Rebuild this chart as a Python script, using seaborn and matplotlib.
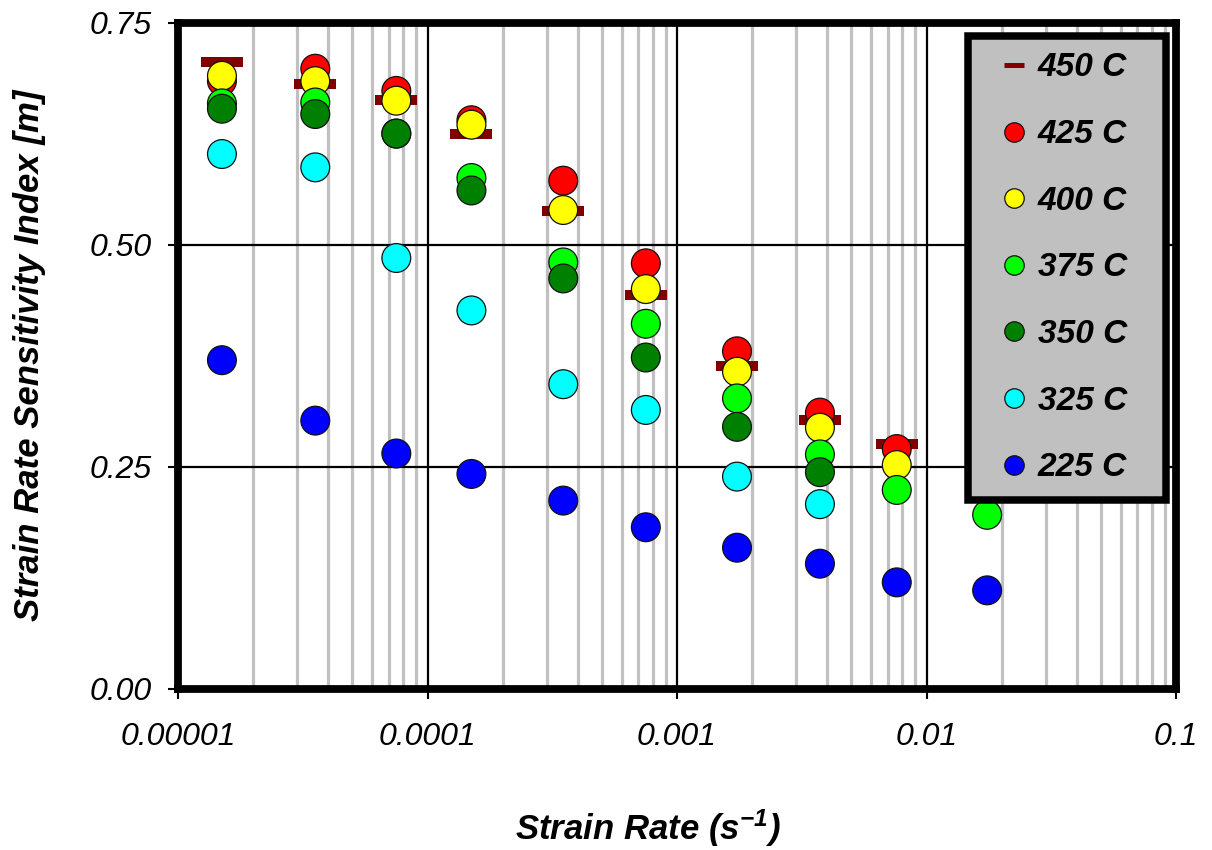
import numpy as np
import pandas as pd
import matplotlib
matplotlib.use("Agg")
import matplotlib.pyplot as plt
from matplotlib.lines import Line2D
from matplotlib.patches import Rectangle
from matplotlib.path import Path
from matplotlib.ticker import LogLocator, FixedLocator, NullFormatter
import seaborn as sns

# ---- data -------------------------------------------------------------
strain_rate = [1.5e-5, 3.55e-5, 7.5e-5, 1.5e-4, 3.5e-4, 7.5e-4,
               1.74e-3, 3.74e-3, 7.6e-3, 1.75e-2]

m_450 = [0.706, 0.681, 0.663, 0.624, 0.538, 0.443, 0.363, 0.303, 0.276, np.nan]
m_425 = [0.684, 0.698, 0.673, 0.640, 0.572, 0.479, 0.380, 0.311, 0.270, np.nan]
m_400 = [0.690, 0.684, 0.662, 0.635, 0.539, 0.450, 0.357, 0.294, 0.252, np.nan]
m_375 = [0.659, 0.660, 0.625, 0.575, 0.480, 0.411, 0.327, 0.264, 0.224, 0.196]
m_350 = [0.653, 0.647, 0.625, 0.561, 0.462, 0.373, 0.295, 0.244, np.nan, np.nan]
m_325 = [0.602, 0.587, 0.485, 0.426, 0.343, 0.314, 0.239, 0.208, np.nan, np.nan]
m_225 = [0.370, 0.302, 0.265, 0.242, 0.212, 0.182, 0.159, 0.141, 0.120, 0.111]

circle_series = ["425 C", "400 C", "375 C", "350 C", "325 C", "225 C"]
circle_values = [m_425, m_400, m_375, m_350, m_325, m_225]
series_colors = {"450 C": "#800000", "425 C": "#FF0000", "400 C": "#FFFF00",
                 "375 C": "#00FF00", "350 C": "#008000", "325 C": "#00FFFF",
                 "225 C": "#0000FF"}

x_tick_values = [1e-5, 1e-4, 1e-3, 1e-2, 1e-1]
x_tick_labels = ["0.00001", "0.0001", "0.001", "0.01", "0.1"]
y_tick_values = [0.0, 0.25, 0.50, 0.75]

# ---- tidy frames -----------------------------------------------------
df_450 = pd.DataFrame({"rate": strain_rate, "m": m_450}).dropna()
df_circ = pd.concat(
    [pd.DataFrame({"rate": strain_rate, "m": v, "T": name})
     for name, v in zip(circle_series, circle_values)],
    ignore_index=True).dropna()

# ---- style -----------------------------------------------------------
sns.set_style("white")
plt.rcParams["font.family"] = ["Liberation Sans", "DejaVu Sans"]
plt.rcParams["text.color"] = "black"
plt.rcParams["axes.labelcolor"] = "black"
plt.rcParams["xtick.color"] = "black"
plt.rcParams["ytick.color"] = "black"
plt.rcParams["mathtext.fontset"] = "custom"
plt.rcParams["mathtext.rm"] = "Liberation Sans:bold:italic"
plt.rcParams["mathtext.it"] = "Liberation Sans:bold:italic"
plt.rcParams["mathtext.bf"] = "Liberation Sans:bold:italic"

fig = plt.figure(figsize=(12.12, 8.5), dpi=100)
W, H = 1212, 850
ax = fig.add_axes([178 / W, 1 - 689 / H, (1176 - 178) / W, (689 - 22.5) / H])

# grid behind the markers
ax.set_axisbelow(True)
ax.set_xscale("log")
ax.set_xlim(1e-5, 1e-1)
ax.set_ylim(0, 0.75)
ax.xaxis.set_major_locator(FixedLocator(x_tick_values))
ax.xaxis.set_minor_locator(LogLocator(base=10, subs=range(2, 10)))
ax.xaxis.set_minor_formatter(NullFormatter())
ax.yaxis.set_major_locator(FixedLocator(y_tick_values))
ax.grid(which="minor", axis="x", color="#C0C0C0", lw=2.3, zorder=0)
ax.grid(which="major", axis="both", color="black", lw=1.6, zorder=0.5)

# 450 C : horizontal bar markers
bar_marker = Path([(-1, -0.24), (1, -0.24), (1, 0.24), (-1, 0.24), (-1, -0.24)],
                  [Path.MOVETO, Path.LINETO, Path.LINETO, Path.LINETO, Path.CLOSEPOLY])
sns.scatterplot(data=df_450, x="rate", y="m", marker=bar_marker, s=914,
                color=series_colors["450 C"], linewidth=0, legend=False,
                ax=ax, zorder=2)

# remaining temperatures : circles
sns.scatterplot(data=df_circ, x="rate", y="m", hue="T", hue_order=circle_series,
                palette=series_colors, marker="o", s=430, edgecolor="#111111",
                linewidth=0.9, legend=False, ax=ax, zorder=3)

# ---- axes cosmetics ------------------------------------------------------
for sp in ax.spines.values():
    sp.set_visible(True)
    sp.set_color("black")
    sp.set_linewidth(5.6)

ax.tick_params(which="major", direction="out", length=7, width=1.5,
               color="black", labelcolor="black", bottom=True, left=True)
ax.tick_params(which="minor", length=0)
ax.tick_params(axis="x", pad=17)
ax.tick_params(axis="y", pad=12)
ax.set_xticklabels(x_tick_labels, fontsize=23, fontstyle="italic")
ax.set_yticklabels([f"{v:.2f}" for v in y_tick_values], fontsize=23,
                   fontstyle="italic")

ax.set_xlabel("Strain Rate (s$^{-1}$)", fontsize=25, fontweight="bold",
              fontstyle="italic", color="black")
ax.set_ylabel("Strain Rate Sensitivity Index [m]", fontsize=25,
              fontweight="bold", fontstyle="italic", color="black")
ax.xaxis.label.set_va("center")
ax.xaxis.set_label_coords((648 - 178) / 998, -(828 - 689) / 666.5)
ax.yaxis.label.set_va("center")
ax.yaxis.set_label_coords((30 - 178) / 998, (689 - 355) / 666.5)

# ---- legend box ------------------------------------------------------------
box_x0, box_x1 = (968 - 178) / 998, (1166 - 178) / 998
box_y0, box_y1 = (689 - 500) / 666.5, (689 - 36) / 666.5
ax.add_patch(Rectangle((box_x0, box_y0), box_x1 - box_x0, box_y1 - box_y0,
                       transform=ax.transAxes, facecolor="#C0C0C0",
                       edgecolor="black", linewidth=5.4, zorder=5,
                       clip_on=False))

handles = [Line2D([], [], linestyle="none", marker="_", markersize=15,
                  markeredgewidth=3.6, color=series_colors["450 C"])]
for name in circle_series:
    handles.append(Line2D([], [], linestyle="none", marker="o", markersize=14,
                          markerfacecolor=series_colors[name],
                          markeredgecolor="#111111", markeredgewidth=0.9))
labels = ["450 C"] + circle_series
leg = ax.legend(handles, labels, loc="center",
                bbox_to_anchor=((box_x0 + box_x1) / 2 - 0.004,
                                (box_y0 + box_y1) / 2),
                frameon=False, handlelength=0.9, handletextpad=0.25,
                labelspacing=1.07, borderpad=0, labelcolor="black",
                prop={"size": 24, "weight": "bold", "style": "italic"})
leg.set_zorder(6)

fig.savefig("out.png", dpi=100)
